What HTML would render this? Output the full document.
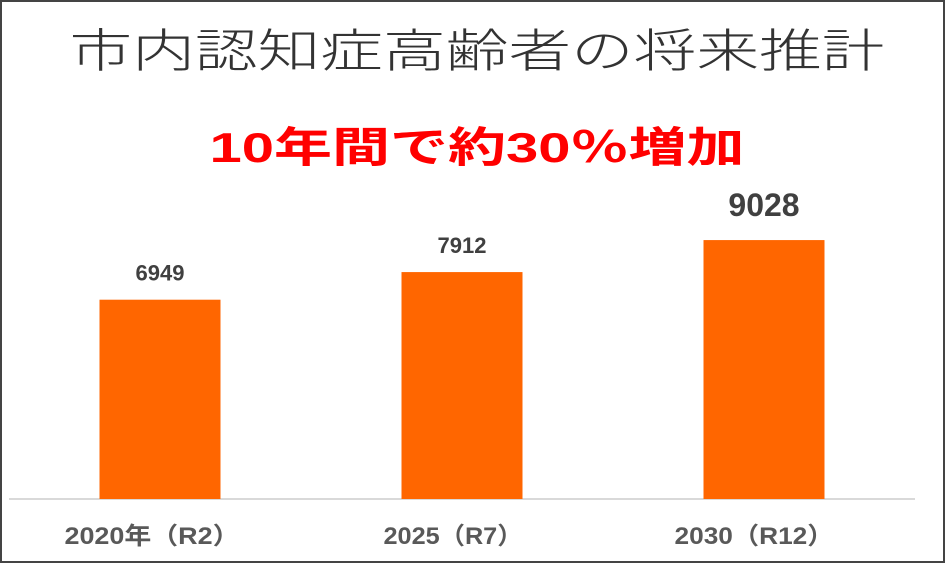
<!DOCTYPE html>
<html><head><meta charset="utf-8"><style>
html,body{margin:0;padding:0;background:#fff}
#c{position:relative;width:946px;height:564px;overflow:hidden}
svg text{font-family:"Liberation Sans","Noto Sans CJK JP",sans-serif}
</style></head><body>
<div id="c">
<svg id="s" width="946" height="564" xmlns="http://www.w3.org/2000/svg">
<rect x="1" y="1" width="943" height="561" fill="#fff" stroke="#444" stroke-width="2"/>
<text x="477" y="67" text-anchor="middle" font-size="46" fill="#333" font-weight="300" textLength="815" lengthAdjust="spacingAndGlyphs" style="font-family:'Noto Sans CJK JP',sans-serif;font-weight:300">市内認知症高齢者の将来推計</text>
<text x="477" y="162" text-anchor="middle" font-size="42" fill="#ff0000" font-weight="bold" textLength="535" lengthAdjust="spacingAndGlyphs">10年間で約30％増加</text>
<line x1="9" y1="499" x2="915" y2="499" stroke="#d9d9d9" stroke-width="2"/>
<g id="bars"></g>
</svg>
</div>
<script>
const categories=["2020年（R2）","2025（R7）","2030（R12）"];
const values=[6949,7912,9028];
const valueLabels=["6949","7912","9028"];
const s=document.getElementById('bars');
const NS="http://www.w3.org/2000/svg";
function yScale(v){return 499-v*0.02868;}
function xCenter(i){return 160+i*302;}
const bw=121;
values.forEach((v,i)=>{
  const r=document.createElementNS(NS,'rect');
  r.setAttribute('x',xCenter(i)-bw/2);
  r.setAttribute('y',yScale(v));
  r.setAttribute('width',bw);
  r.setAttribute('height',499-yScale(v));
  r.setAttribute('fill','#ff6600');
  
  
  s.appendChild(r);
  const t=document.createElementNS(NS,'text');
  const big=i===values.length-1;
  t.setAttribute('x',xCenter(i));
  t.setAttribute('y',yScale(v)-(big?24:19));
  t.setAttribute('text-anchor','middle');
  t.setAttribute('font-size',big?32:22);
  t.setAttribute('font-weight','bold');
  t.setAttribute('fill','#404040');
  t.textContent=valueLabels[i];
  
  
  s.appendChild(t);
  const c=document.createElementNS(NS,'text');
  c.setAttribute('x',xCenter(i)-8+i*(-1));
  c.setAttribute('y',544);
  c.setAttribute('text-anchor','middle');
  c.setAttribute('font-size',24);
  c.setAttribute('font-weight','bold');
  c.setAttribute('fill','#595959');
  c.setAttribute('textLength',[175,139,159][i]);
  c.setAttribute('lengthAdjust','spacingAndGlyphs');
  c.textContent=categories[i];
  
  
  s.appendChild(c);
});
</script>
</body></html>
